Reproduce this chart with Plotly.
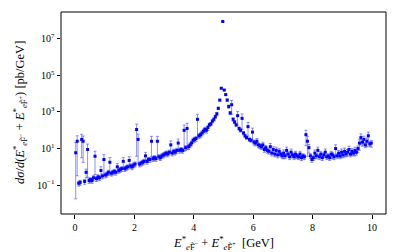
import plotly.graph_objects as go

# Bin centres [GeV]
energy = [
    0.025, 0.075, 0.125, 0.175, 0.225, 0.275, 0.325, 0.375, 0.425, 0.475,
    0.525, 0.575, 0.625, 0.675, 0.725, 0.775, 0.825, 0.875, 0.925, 0.975,
    1.025, 1.075, 1.125, 1.175, 1.225, 1.275, 1.325, 1.375, 1.425, 1.475,
    1.525, 1.575, 1.625, 1.675, 1.725, 1.775, 1.825, 1.875, 1.925, 1.975,
    2.025, 2.075, 2.125, 2.175, 2.225, 2.275, 2.325, 2.375, 2.425, 2.475,
    2.525, 2.575, 2.625, 2.675, 2.725, 2.775, 2.825, 2.875, 2.925, 2.975,
    3.025, 3.075, 3.125, 3.175, 3.225, 3.275, 3.325, 3.375, 3.425, 3.475,
    3.525, 3.575, 3.625, 3.675, 3.725, 3.775, 3.825, 3.875, 3.925, 3.975,
    4.025, 4.075, 4.125, 4.175, 4.225, 4.275, 4.325, 4.375, 4.425, 4.475,
    4.525, 4.575, 4.625, 4.675, 4.725, 4.775, 4.825, 4.875, 4.925, 4.975,
    5.025, 5.075, 5.125, 5.175, 5.225, 5.275, 5.325, 5.375, 5.425, 5.475,
    5.525, 5.575, 5.625, 5.675, 5.725, 5.775, 5.825, 5.875, 5.925, 5.975,
    6.025, 6.075, 6.125, 6.175, 6.225, 6.275, 6.325, 6.375, 6.425, 6.475,
    6.525, 6.575, 6.625, 6.675, 6.725, 6.775, 6.825, 6.875, 6.925, 6.975,
    7.025, 7.075, 7.125, 7.175, 7.225, 7.275, 7.325, 7.375, 7.425, 7.475,
    7.525, 7.575, 7.625, 7.675, 7.725, 7.775, 7.825, 7.875, 7.925, 7.975,
    8.025, 8.075, 8.125, 8.175, 8.225, 8.275, 8.325, 8.375, 8.425, 8.475,
    8.525, 8.575, 8.625, 8.675, 8.725, 8.775, 8.825, 8.875, 8.925, 8.975,
    9.025, 9.075, 9.125, 9.175, 9.225, 9.275, 9.325, 9.375, 9.425, 9.475,
    9.525, 9.575, 9.625, 9.675, 9.725, 9.775, 9.825, 9.875, 9.925, 9.975,
]

# log10 of dσ/dE [pb/GeV]
log_xsec = [
    0.77, 1.4, -0.9, -0.85, 1.5, 1.4, -0.8, -0.3, 0.95, -0.75,
    -0.7, -0.75, -0.6, 0.58, -0.65, -0.55, -0.6, -0.2, -0.5, 0.4,
    -0.45, -0.4, -0.3, 0.25, -0.35, -0.3, -0.25, -0.3, 0.0, -0.2,
    -0.15, -0.1, 0.3, -0.1, -0.05, 0.0, 0.35, 0.05, 0.0, 0.1,
    0.15, 2.04, 1.5, 0.15, 0.2, 0.25, 0.3, 0.6, 0.3, 0.4,
    0.4, 1.4, 0.45, 0.5, 0.45, 1.4, 0.55, 0.5, 0.6, 0.65,
    0.7, 0.75, 0.7, 0.8, 1.2, 0.75, 0.85, 0.8, 0.9, 1.3,
    0.9, 0.95, 0.9, 2.0, 1.05, 2.1, 1.1, 1.2, 1.3, 1.45,
    1.5, 1.55, 2.6, 1.7, 1.75, 1.85, 1.95, 2.05, 2.0, 2.15,
    2.3, 2.35, 2.5, 2.6, 2.75, 2.9, 3.2, 3.65, 4.3, 7.95,
    4.2, 3.95, 3.65, 3.3, 2.95, 3.4, 2.6, 2.45, 2.3, 2.8,
    2.1, 2.0, 2.65, 1.85, 1.7, 1.6, 2.2, 1.5, 1.45, 1.9,
    1.35, 1.3, 1.4, 1.2, 1.15, 1.1, 1.2, 0.95, 1.05, 0.9,
    0.85, 1.1, 0.75, 0.95, 0.7, 0.9, 0.65, 0.85, 0.7, 0.6,
    0.75, 0.6, 0.9, 0.7, 0.55, 0.8, 0.65, 0.55, 0.7, 0.6,
    0.55, 0.7, 0.5, 0.6, 0.55, 1.76, 1.4, 1.05, 0.6, 0.4,
    0.5, 0.75, 0.6, 0.9, 0.55, 0.7, 0.5, 0.65, 0.8, 0.55,
    0.6, 0.5, 0.7, 0.65, 0.55, 1.0, 0.6, 0.75, 0.6, 0.8,
    0.65, 0.85, 0.7, 0.8, 0.95, 0.7, 0.85, 0.75, 0.9, 0.8,
    1.0, 1.3, 1.6, 1.35, 1.5, 1.2, 1.4, 1.7, 1.25, 1.3,
]

# relative statistical error of each bin
rel_err = [
    2.6, 0.987, 0.3, 0.3, 0.9, 0.93, 0.3, 0.5, 0.97, 0.3,
    0.3, 0.3, 0.3, 0.9, 0.3, 0.3, 0.3, 0.6, 0.3, 0.85,
    0.3, 0.3, 0.3, 0.8, 0.3, 0.3, 0.3, 0.3, 0.5, 0.3,
    0.3, 0.3, 0.6, 0.3, 0.3, 0.3, 0.6, 0.3, 0.3, 0.3,
    0.3, 0.965, 0.95, 0.3, 0.3, 0.3, 0.3, 0.55, 0.3, 0.3,
    0.3, 0.85, 0.3, 0.3, 0.3, 0.85, 0.3, 0.3, 0.3, 0.3,
    0.3, 0.3, 0.3, 0.3, 0.65, 0.3, 0.3, 0.3, 0.3, 0.65,
    0.3, 0.3, 0.3, 0.93, 0.3, 0.93, 0.3, 0.3, 0.3, 0.3,
    0.3, 0.3, 0.9, 0.3, 0.3, 0.3, 0.3, 0.3, 0.3, 0.3,
    0.2, 0.2, 0.2, 0.2, 0.2, 0.2, 0.15, 0.1, 0.05, 0.02,
    0.05, 0.1, 0.15, 0.2, 0.2, 0.7, 0.2, 0.2, 0.2, 0.7,
    0.2, 0.2, 0.75, 0.2, 0.2, 0.2, 0.7, 0.2, 0.2, 0.65,
    0.3, 0.3, 0.4, 0.3, 0.3, 0.3, 0.4, 0.3, 0.3, 0.3,
    0.3, 0.5, 0.3, 0.4, 0.3, 0.5, 0.3, 0.4, 0.3, 0.3,
    0.5, 0.3, 0.5, 0.3, 0.3, 0.5, 0.3, 0.3, 0.4, 0.3,
    0.3, 0.4, 0.3, 0.3, 0.3, 0.75, 0.85, 0.5, 0.3, 0.3,
    0.3, 0.5, 0.3, 0.5, 0.3, 0.4, 0.3, 0.3, 0.5, 0.3,
    0.3, 0.3, 0.4, 0.4, 0.3, 0.6, 0.3, 0.4, 0.3, 0.5,
    0.3, 0.5, 0.3, 0.4, 0.5, 0.3, 0.4, 0.3, 0.5, 0.3,
    0.4, 0.6, 0.6, 0.4, 0.5, 0.3, 0.5, 0.6, 0.3, 0.4,
]

y_tick_vals = [1e-1, 1e1, 1e3, 1e5, 1e7]
y_tick_text = ["10<sup>−1</sup>", "10<sup>1</sup>", "10<sup>3</sup>", "10<sup>5</sup>", "10<sup>7</sup>"]
x_tick_vals = [0, 2, 4, 6, 8, 10]

xsec = [10 ** v for v in log_xsec]
err_plus = [y * r for y, r in zip(xsec, rel_err)]
err_minus = [y * min(r, 0.997) for y, r in zip(xsec, rel_err)]

SERIF = "Liberation Serif, Times New Roman, serif"

fig = go.Figure()
fig.add_trace(go.Scatter(
    x=energy, y=xsec, mode="markers",
    marker=dict(color="#0000ff", size=3.0, symbol="square", line=dict(width=0)),
    error_y=dict(type="data", symmetric=False, array=err_plus, arrayminus=err_minus,
                 color="rgba(70,70,255,0.6)", thickness=1, width=1.5),
    showlegend=False,
))

fig.update_layout(
    width=407, height=252,
    margin=dict(l=61, r=21, t=12, b=38),
    paper_bgcolor="white", plot_bgcolor="white",
    font=dict(family=SERIF, size=10, color="black"),
    xaxis=dict(range=[-0.47, 10.47], tickvals=x_tick_vals, ticks="outside", ticklen=3.5,
               tickwidth=0.8, tickcolor="black", showgrid=False, zeroline=False, showline=False,
               tickfont=dict(family=SERIF, size=10)),
    yaxis=dict(type="log", range=[-2.58, 8.47], tickvals=y_tick_vals, ticktext=y_tick_text,
               ticks="outside", ticklen=3.5, tickwidth=0.8, tickcolor="black", showgrid=False,
               zeroline=False, showline=False, tickfont=dict(family=SERIF, size=10)),
    shapes=[dict(type="rect", xref="paper", yref="paper", x0=0, x1=1, y0=0, y1=1,
                 line=dict(color="black", width=1), fillcolor="rgba(0,0,0,0)", layer="above")],
    annotations=[
        dict(text="<i>E</i><sup>*</sup><sub><i>e</i>F̃<sup>−</sup></sub> + "
                  "<i>E</i><sup>*</sup><sub><i>e</i>F̃<sup>+</sup></sub>  [GeV]",
             x=0.5, xref="paper", y=-0.09, yref="paper", yanchor="top", showarrow=False,
             font=dict(family=SERIF, size=12.5)),
        dict(text="<i>dσ</i>/<i>d</i>(<i>E</i><sup>*</sup><sub><i>e</i>F̃<sup>−</sup></sub> + "
                  "<i>E</i><sup>*</sup><sub><i>e</i>F̃<sup>+</sup></sub>) [pb/GeV]",
             x=-0.16, xref="paper", y=0.5, yref="paper", textangle=-90, showarrow=False,
             font=dict(family=SERIF, size=12.5)),
    ],
)

fig.write_html("out.html", config={"displayModeBar": False},
               post_script="document.body.style.margin='0';document.body.style.padding='0';")
